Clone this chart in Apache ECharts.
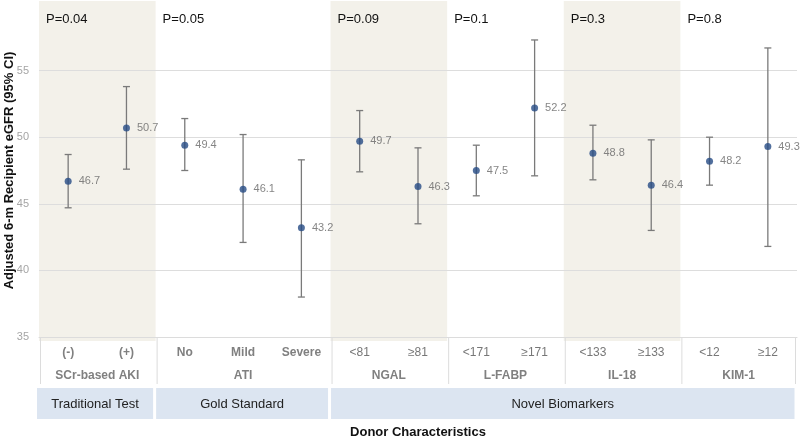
<!DOCTYPE html>
<html>
<head>
<meta charset="utf-8">
<script src="https://cdn.jsdelivr.net/npm/echarts@6/dist/echarts.min.js"></script>
<style>html,body{margin:0;padding:0;background:#fff;}#main{width:800px;height:440px;}</style>
</head>
<body>
<div id="main"></div>
<script>
const categories = ['(-)', '(+)', 'No', 'Mild', 'Severe', '<81', '≥81', '<171', '≥171', '<133', '≥133', '<12', '≥12'];
const means = [46.7, 50.7, 49.4, 46.1, 43.2, 49.7, 46.3, 47.5, 52.2, 48.8, 46.4, 48.2, 49.3];
const lower = [44.7, 47.6, 47.5, 42.1, 38.0, 47.4, 43.5, 45.6, 47.1, 46.8, 43.0, 46.4, 41.8];
const upper = [48.7, 53.8, 51.4, 50.2, 48.3, 52.0, 49.2, 49.4, 57.3, 50.9, 49.8, 50.0, 56.7];
const boldCategoryCount = 5;

const groupNames = ['SCr-based AKI', 'ATI', 'NGAL', 'L-FABP', 'IL-18', 'KIM-1'];
const groupSizes = [2, 3, 2, 2, 2, 2];
const pValues = ['P=0.04', 'P=0.05', 'P=0.09', 'P=0.1', 'P=0.3', 'P=0.8'];
const groupShaded = [true, false, true, false, true, false];

const sectionNames = ['Traditional Test', 'Gold Standard', 'Novel Biomarkers'];
const sectionGroupCounts = [1, 1, 4];

const yMin = 35, yMax = 60, yInterval = 5;
const yTitle = 'Adjusted 6-m Recipient eGFR (95% CI)';
const xTitle = 'Donor Characteristics';

const FONT = '"Liberation Sans", Arial, Helvetica, sans-serif';

// group ranges in category indices
const groupRanges = [];
let c0 = 0;
groupSizes.forEach(n => { groupRanges.push([c0, c0 + n - 1, yMin]); c0 += n; });
const sectionRanges = [];
let g0 = 0;
sectionGroupCounts.forEach(n => {
  sectionRanges.push([groupRanges[g0][0], groupRanges[g0 + n - 1][1], yMin]);
  g0 += n;
});

const chart = echarts.init(document.getElementById('main'), null, { renderer: 'canvas' });

function bandEdges(api, s, e) {
  const bw = api.size([1, 0])[0];
  return [api.coord([s, yMin])[0] - bw / 2, api.coord([e, yMin])[0] + bw / 2];
}

const option = {
  animation: false,
  backgroundColor: '#ffffff',
  textStyle: { fontFamily: FONT },
  grid: { left: 39, right: 3, top: 4, bottom: 103, containLabel: false, outerBoundsMode: 'none' },
  xAxis: {
    type: 'category',
    data: categories,
    z: 1,
    axisLine: { show: true, lineStyle: { color: '#dcdcdc', width: 1 } },
    axisTick: { show: false },
    splitLine: { show: false },
    axisLabel: {
      margin: 10,
      interval: 0,
      fontFamily: FONT,
      formatter: (v, i) => (i < boldCategoryCount ? '{b|' + v + '}' : '{n|' + v + '}'),
      rich: {
        b: { fontSize: 12, fontWeight: 'bold', color: '#808080', fontFamily: FONT },
        n: { fontSize: 12, color: '#777', fontFamily: FONT }
      }
    },
    name: xTitle,
    nameLocation: 'middle',
    nameGap: 89,
    nameMoveOverlap: false,
    nameTextStyle: { fontSize: 13, fontWeight: 'bold', color: '#111', fontFamily: FONT }
  },
  yAxis: {
    type: 'value',
    min: yMin, max: yMax, interval: yInterval,
    z: 1,
    axisLine: { show: false },
    axisTick: { show: false },
    axisLabel: { color: '#a5a5a5', fontSize: 11, margin: 10, showMaxLabel: false, fontFamily: FONT },
    splitLine: { show: true, showMaxLine: false, showMinLine: false, lineStyle: { color: '#dddddd', width: 1 } },
    name: yTitle,
    nameLocation: 'middle',
    nameGap: 23,
    nameMoveOverlap: false,
    nameTextStyle: { fontSize: 13, fontWeight: 'bold', color: '#111', fontFamily: FONT }
  },
  series: [
    {
      type: 'custom',
      name: 'groups',
      z: 0,
      silent: true,
      encode: { x: [0, 1], y: 2 },
      data: groupRanges,
      renderItem: function (params, api) {
        const i = params.dataIndex;
        const [x0, x1] = bandEdges(api, api.value(0), api.value(1));
        const cs = params.coordSys;
        const top = cs.y, bottom = cs.y + cs.height;
        const children = [];
        if (groupShaded[i]) {
          children.push({ type: 'rect', z2: 0, shape: { x: x0, y: top - 3, width: x1 - x0, height: bottom - top + 7 },
            style: { fill: '#f3f1ea' } });
        }
        children.push({ type: 'text', z2: 5, style: { text: pValues[i], x: x0 + 7, y: top + 15, fill: '#111',
          fontSize: 13, fontFamily: FONT, align: 'left', verticalAlign: 'middle' } });
        children.push({ type: 'text', z2: 5, style: { text: groupNames[i], x: (x0 + x1) / 2, y: bottom + 39, fill: '#808080',
          fontSize: 12, fontWeight: 'bold', fontFamily: FONT, align: 'center', verticalAlign: 'middle' } });
        children.push({ type: 'line', z2: 5, shape: { x1: x0 + 1.5, y1: bottom, x2: x0 + 1.5, y2: bottom + 47 },
          style: { stroke: '#dcdcdc', lineWidth: 1 } });
        if (i === groupRanges.length - 1) {
          children.push({ type: 'line', z2: 5, shape: { x1: x1 - 1.5, y1: bottom, x2: x1 - 1.5, y2: bottom + 47 },
            style: { stroke: '#dcdcdc', lineWidth: 1 } });
        }
        return { type: 'group', children };
      }
    },
    {
      type: 'custom',
      name: 'sections',
      z: 0,
      silent: true,
      encode: { x: [0, 1], y: 2 },
      data: sectionRanges,
      renderItem: function (params, api) {
        const i = params.dataIndex;
        const [x0, x1] = bandEdges(api, api.value(0), api.value(1));
        const cs = params.coordSys;
        const bottom = cs.y + cs.height;
        const left = i === 0 ? x0 - 2 : x0 + 0.5;
        const right = x1 - 2.5;
        return {
          type: 'group',
          children: [
            { type: 'rect', shape: { x: left, y: bottom + 51, width: right - left, height: 31 },
              style: { fill: '#dce5f1' } },
            { type: 'text', style: { text: sectionNames[i], x: (left + right) / 2, y: bottom + 67, fill: '#222',
              fontSize: 13, fontFamily: FONT, align: 'center', verticalAlign: 'middle' } }
          ]
        };
      }
    },
    {
      type: 'custom',
      name: 'CI',
      z: 2,
      silent: true,
      encode: { x: 0, y: [1, 2] },
      data: categories.map((c, i) => [i, lower[i], upper[i]]),
      renderItem: function (params, api) {
        const lo = api.coord([api.value(0), api.value(1)]);
        const hi = api.coord([api.value(0), api.value(2)]);
        const hw = 3.5;
        const st = { stroke: '#7a7a7a', lineWidth: 1.3 };
        return {
          type: 'group',
          children: [
            { type: 'line', shape: { x1: lo[0], y1: lo[1], x2: hi[0], y2: hi[1] }, style: st },
            { type: 'line', shape: { x1: lo[0] - hw, y1: lo[1], x2: lo[0] + hw, y2: lo[1] }, style: st },
            { type: 'line', shape: { x1: hi[0] - hw, y1: hi[1], x2: hi[0] + hw, y2: hi[1] }, style: st }
          ]
        };
      }
    },
    {
      type: 'scatter',
      name: 'mean',
      z: 3,
      symbol: 'circle',
      symbolSize: 7,
      data: means,
      itemStyle: { color: '#254b85' },
      label: {
        show: true,
        position: 'right',
        distance: 7,
        color: '#666',
        fontSize: 11,
        fontFamily: FONT,
        formatter: p => String(p.value)
      }
    }
  ]
};
chart.setOption(option);
</script>
</body>
</html>
